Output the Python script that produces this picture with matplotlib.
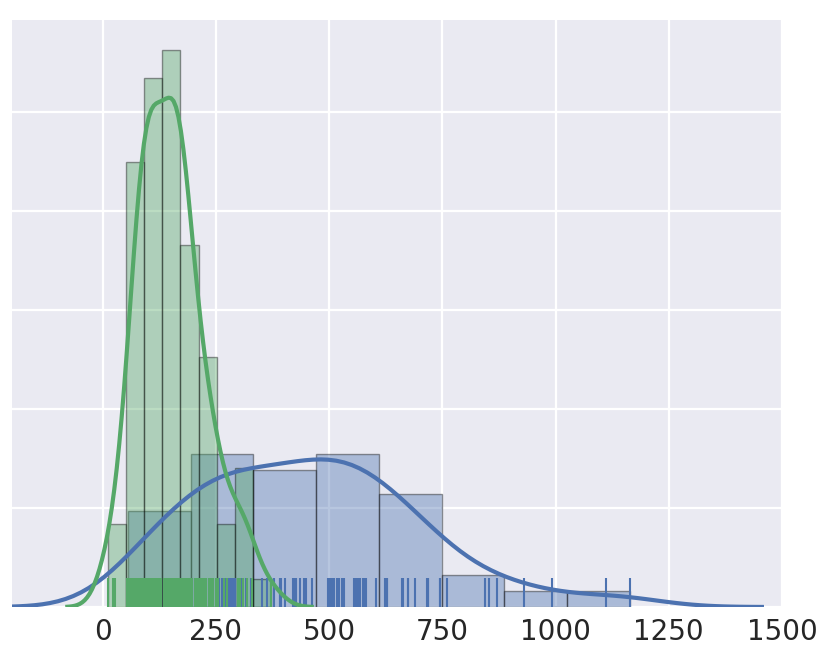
import numpy as np
import matplotlib
matplotlib.use("Agg")
import matplotlib.pyplot as plt
from matplotlib.collections import LineCollection

blue_values = [
    56, 70, 82, 95, 104, 118, 130, 141, 152, 165, 176, 188,
    198, 205, 212, 223, 236, 250, 258, 263, 269, 272, 276, 280, 284, 288, 291.5, 298, 305, 316, 328,
    353, 362, 371, 377.6, 391, 392, 395, 402, 419.6, 424, 426, 428, 435, 444, 446, 448, 461.6,
    497, 499, 503.5, 506, 512, 517, 523, 528, 530, 532, 556, 558, 561, 563, 567.6, 576, 578, 581, 603,
    622.8, 625, 627, 629, 660, 662.5, 673.6, 675, 689, 715.5, 717.7, 719, 744, 746,
    759.7, 843.6, 852.5, 870,
    930, 991.6,
    1110.9, 1164,
]
green_values = [
    12, 22, 27,
    53, 57, 61, 65, 68, 71, 74, 77, 79, 81, 83, 85, 87, 88, 89, 91,
    93, 95, 97, 99, 101, 103, 104, 106, 107, 109, 110, 112, 113, 115, 117, 119, 122, 126, 130,
    136, 140, 143, 146, 148, 150, 152, 153, 155, 156, 158, 159, 161, 162, 164, 166, 167, 169, 170, 171,
    172, 173, 175, 177, 179, 181, 183, 186, 189, 193, 198, 203, 209,
    213, 217, 221, 225, 229, 234, 239, 244, 250,
    255, 269, 274,
    298, 303, 309, 318, 329,
    372,
]
blue_bins = 8
green_bins = 9
x_ticks = [0, 250, 500, 750, 1000, 1250, 1500]

BLUE = "#4C72B0"
GREEN = "#55A868"


def kde_curve(values, gridsize=100, cut=3):
    """Gaussian KDE, scott's rule bandwidth"""
    data = np.asarray(values, dtype=float)
    n = len(data)
    bw = data.std(ddof=1) * n ** (-0.2)
    grid = np.linspace(data.min() - cut * bw, data.max() + cut * bw, gridsize)
    dens = np.exp(-0.5 * ((grid[:, None] - data[None, :]) / bw) ** 2).sum(axis=1)
    dens /= n * bw * np.sqrt(2 * np.pi)
    return grid, dens


def draw_dist(ax, values, bins, color):
    ax.hist(values, bins=bins, density=True, color=color, alpha=0.4,
            edgecolor="black", linewidth=1)
    grid, dens = kde_curve(values)
    ax.plot(grid, dens, color=color, linewidth=3)
    segs = [[(v, 0), (v, 0.05)] for v in values]
    rug = LineCollection(segs, colors=color, linewidths=1.5,
                         transform=ax.get_xaxis_transform())
    ax.add_collection(rug)


fig = plt.figure(figsize=(8.31, 6.60), dpi=100)
ax = fig.add_axes([12 / 831, 53 / 660, 770 / 831, 587 / 660])
ax.set_facecolor("#EAEAF2")
ax.set_axisbelow(True)
ax.grid(True, color="white", linewidth=1.6)
for side in ax.spines.values():
    side.set_visible(False)

draw_dist(ax, blue_values, blue_bins, BLUE)
draw_dist(ax, green_values, green_bins, GREEN)

ax.set_xlim(-200, 1500)
ax.set_ylim(0, 0.005925)
ax.set_xticks(x_ticks)
ax.set_yticks([0, 0.001, 0.002, 0.003, 0.004, 0.005])
ax.set_yticklabels([])
ax.tick_params(axis="both", length=0, labelsize=20, labelcolor="#262626", pad=8)

fig.savefig("out.png", dpi=100)
